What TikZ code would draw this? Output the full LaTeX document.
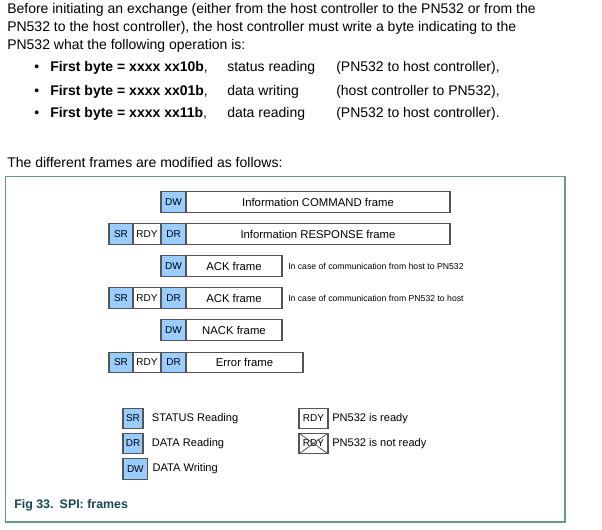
\documentclass[tikz,border=0pt]{standalone}
\usepackage{fontspec}
\setmainfont{Liberation Sans}
\usetikzlibrary{positioning}
\definecolor{boxblue}{RGB}{153,204,255}
\definecolor{boxline}{RGB}{85,85,85}
\definecolor{framegreen}{RGB}{104,152,140}
\definecolor{captionblue}{RGB}{22,70,82}
\tikzset{
 cell/.style={draw=boxline, line width=0.8pt, minimum height=15.4pt, inner sep=0pt, outer sep=0pt, font=\fontsize{7.5}{9}\selectfont},
 bluecell/.style={cell, fill=boxblue},
 whitecell/.style={cell, fill=white},
 framebox/.style={cell, fill=white, font=\fontsize{8.5}{10}\selectfont},
 note/.style={anchor=west, inner sep=0pt, font=\fontsize{6.5}{8}\selectfont},
 legend/.style={inner sep=0pt, font=\fontsize{8.3}{10}\selectfont},
 bodytext/.style={anchor=base west, inner sep=0pt, font=\fontsize{10.5}{13}\selectfont}
}
\begin{document}
\begin{tikzpicture}[x=0.75pt,y=-0.75pt]
\useasboundingbox (0,0) rectangle (602,529);
% intro text
\node[bodytext] (line1) at (7,13.3) {Before initiating an exchange (either from the host controller to the PN532 or from the};
\node[bodytext] (line2) at (7,31.7) {PN532 to the host controller), the host controller must write a byte indicating to the};
\node[bodytext] (line3) at (7,49.3) {PN532 what the following operation is:};
\node[bodytext] (bul1) at (34,71.7) {\textbullet};
\node[bodytext] (byte1) at (50,71.7) {\textbf{First byte = xxxx xx10b},};
\node[bodytext] (op1) at (227,71.7) {status reading};
\node[bodytext] (dir1) at (336,71.7) {(PN532 to host controller),};
\node[bodytext] (bul2) at (34,95) {\textbullet};
\node[bodytext] (byte2) at (50,95) {\textbf{First byte = xxxx xx01b},};
\node[bodytext] (op2) at (227,95) {data writing};
\node[bodytext] (dir2) at (336,95) {(host controller to PN532),};
\node[bodytext] (bul3) at (34,117.3) {\textbullet};
\node[bodytext] (byte3) at (50,117.3) {\textbf{First byte = xxxx xx11b},};
\node[bodytext] (op3) at (227,117.3) {data reading};
\node[bodytext] (dir3) at (336,117.3) {(PN532 to host controller).};
\node[bodytext] (lead) at (7,167.7) {The different frames are modified as follows:};
% figure frame
\draw [framegreen, line width=0.9pt] (5.5,176.7) rectangle (565,522);
% command frame
\node[bluecell, minimum width=18.75pt, anchor=west] (dw1) at (161,202) {DW};
\node[framebox, minimum width=198pt, right=0pt of dw1] (cmd) {Information COMMAND frame};
% response frame
\node[bluecell, minimum width=18pt, anchor=west] (sr2) at (109,234) {SR};
\node[whitecell, minimum width=21pt, right=0pt of sr2] (rdy2) {RDY};
\node[bluecell, minimum width=18.75pt, right=0pt of rdy2] (dr2) {DR};
\node[framebox, minimum width=198pt, right=0pt of dr2] (resp) {Information RESPONSE frame};
% ack frames
\node[bluecell, minimum width=18.75pt, anchor=west] (dw3) at (161,266) {DW};
\node[framebox, minimum width=72pt, right=0pt of dw3] (ack3) {ACK frame};
\node[note] (note3) at (288,266) {In case of communication from host to PN532};
\node[bluecell, minimum width=18pt, anchor=west] (sr4) at (109,298) {SR};
\node[whitecell, minimum width=21pt, right=0pt of sr4] (rdy4) {RDY};
\node[bluecell, minimum width=18.75pt, right=0pt of rdy4] (dr4) {DR};
\node[framebox, minimum width=72pt, right=0pt of dr4] (ack4) {ACK frame};
\node[note] (note4) at (288,298) {In case of communication from PN532 to host};
% nack frame
\node[bluecell, minimum width=18.75pt, anchor=west] (dw5) at (161,330) {DW};
\node[framebox, minimum width=72pt, right=0pt of dw5] (nack) {NACK frame};
% error frame
\node[bluecell, minimum width=18pt, anchor=west] (sr6) at (109,362.5) {SR};
\node[whitecell, minimum width=21pt, right=0pt of sr6] (rdy6) {RDY};
\node[bluecell, minimum width=18.75pt, right=0pt of rdy6] (dr6) {DR};
\node[framebox, minimum width=87.75pt, right=0pt of dr6] (err) {Error frame};
% legend
\node[bluecell, minimum width=15pt, minimum height=15.5pt, anchor=west] (keysr) at (123,418.5) {SR};
\node[legend, right=6.5pt of keysr] (keysrtxt) {STATUS Reading};
\node[bluecell, minimum width=15pt, minimum height=15.5pt, anchor=west] (keydr) at (123,443.5) {DR};
\node[legend, right=6.5pt of keydr] (keydrtxt) {DATA Reading};
\node[bluecell, minimum width=18.5pt, minimum height=15.5pt, anchor=west] (keydw) at (123,469) {DW};
\node[legend, right=3.5pt of keydw] (keydwtxt) {DATA Writing};
\node[whitecell, minimum width=21.75pt, minimum height=15.5pt, anchor=west] (keyrdy) at (299,418.5) {RDY};
\node[legend, right=3pt of keyrdy] (keyrdytxt) {PN532 is ready};
\node[whitecell, minimum width=21.75pt, minimum height=15.5pt, anchor=west] (keynrdy) at (299,443.5) {RDY};
\draw [boxline, line width=0.6pt] (keynrdy.north west) -- (keynrdy.south east) (keynrdy.north east) -- (keynrdy.south west);
\node[legend, right=3pt of keynrdy] (keynrdytxt) {PN532 is not ready};
% caption
\node[anchor=base west, inner sep=0pt, text=captionblue, font=\bfseries\fontsize{9.3}{11}\selectfont] (caption) at (14,508) {Fig 33.\enspace SPI: frames};
\end{tikzpicture}
\end{document}
